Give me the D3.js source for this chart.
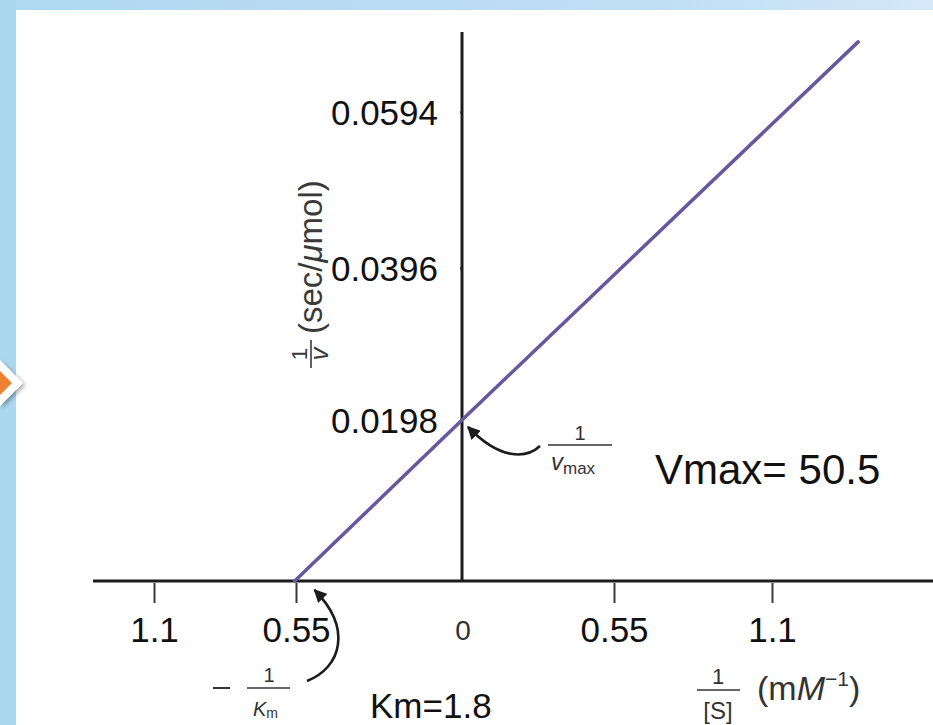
<!DOCTYPE html>
<html>
<head>
<meta charset="utf-8">
<script src="https://cdn.jsdelivr.net/npm/d3@7"></script>
<style>
  html, body { margin: 0; padding: 0; background: #fff; }
  svg { display: block; }
  text { font-family: "Liberation Sans", Arial, Helvetica, sans-serif; }
</style>
</head>
<body>
<svg id="chart" width="933" height="725"></svg>
<script>
// Lineweaver–Burk plot: 1/v against 1/[S]
const Km = 1.8;
const Vmax = 50.5;

// reciprocal substrate concentration (mM^-1) and reciprocal velocity (sec/µmol) along the fitted line
const invS = [-0.555, 0, 1.40];
const invV = [0, 0.0198, 0.0683];

// axis ticks
const xTickValues = [-1.1, -0.55, 0.55, 1.1];
const yTickValues = [0.0198, 0.0396, 0.0594];
const yTickLabels = ["0.0198", "0.0396", "0.0594"];

const svg = d3.select("#chart");
const W = 933, H = 725;

// slide frame
const defs = svg.append("defs");
const grad = defs.append("linearGradient").attr("id", "topband").attr("x1", "0").attr("x2", "1");
grad.append("stop").attr("offset", "0").attr("stop-color", "#afd8f1");
grad.append("stop").attr("offset", "0.7").attr("stop-color", "#bfdef4");
grad.append("stop").attr("offset", "1").attr("stop-color", "#d4e8f8");
const shadow = defs.append("filter").attr("id", "shadow").attr("x", "-50%").attr("y", "-50%").attr("width", "200%").attr("height", "200%");
shadow.append("feDropShadow").attr("dx", 2).attr("dy", 2).attr("stdDeviation", 2).attr("flood-color", "#000").attr("flood-opacity", 0.35);

svg.append("rect").attr("x", 0).attr("y", 0).attr("width", W).attr("height", H).attr("fill", "#fff");
svg.append("rect").attr("x", 0).attr("y", 0).attr("width", W).attr("height", 10).attr("fill", "url(#topband)");
svg.append("rect").attr("x", 0).attr("y", 0).attr("width", 16).attr("height", H).attr("fill", "#acd7f1");

// bullet chevron on the frame edge
svg.append("path").attr("d", "M0,360 L23,383 L0,406 Z").attr("fill", "#fff").attr("filter", "url(#shadow)");
svg.append("path").attr("d", "M0,371 L12,383 L0,395 Z").attr("fill", "#ef8230");

// scales
const x = d3.scaleLinear()
  .domain([-1.1, -0.55, 0, 0.55, 1.1])
  .range([154, 296, 462, 614, 772]);
const y = d3.scaleLinear()
  .domain([0, 0.0198, 0.0396, 0.0594])
  .range([581, 420, 268, 112]);

const x0 = x(0), y0 = y(0);

// x axis ticks and labels (magnitudes only, as printed)
const xAxis = svg.append("g").attr("transform", `translate(0,${y0})`)
  .call(d3.axisBottom(x).tickValues(xTickValues).tickSize(22).tickSizeOuter(0)
    .tickFormat(d => String(Math.abs(d))));
xAxis.select(".domain").remove();
xAxis.selectAll(".tick line").attr("stroke", "#3a3a3a").attr("stroke-width", 2).attr("y1", 2);
xAxis.selectAll(".tick text")
  .attr("y", 61).attr("dy", null)
  .attr("fill", "#111").attr("font-size", 35)
  .attr("font-family", "'Liberation Sans', Arial, sans-serif");

// y axis ticks and labels
const yAxis = svg.append("g").attr("transform", `translate(${x0},0)`)
  .call(d3.axisLeft(y).tickValues(yTickValues).tickSize(20).tickSizeOuter(0)
    .tickFormat((d, i) => yTickLabels[i]));
yAxis.select(".domain").remove();
yAxis.selectAll(".tick line").attr("stroke", "#3a3a3a").attr("stroke-width", 2).attr("x2", -2);
yAxis.selectAll(".tick text")
  .attr("x", -24).attr("dy", "0.36em")
  .attr("fill", "#111").attr("font-size", 35)
  .attr("font-family", "'Liberation Sans', Arial, sans-serif");

// axis lines
svg.append("line").attr("x1", 93).attr("x2", W).attr("y1", y0).attr("y2", y0)
  .attr("stroke", "#1c1c1c").attr("stroke-width", 3);
svg.append("line").attr("x1", x0).attr("x2", x0).attr("y1", 32).attr("y2", y0)
  .attr("stroke", "#1c1c1c").attr("stroke-width", 3);

// origin label
svg.append("text").attr("x", x0 + 1).attr("y", 640).attr("text-anchor", "middle")
  .attr("font-size", 28).attr("fill", "#333").text("0");

// the double-reciprocal line
const pts = invS.map((s, i) => [s, invV[i]]);
svg.append("path").datum(pts)
  .attr("d", d3.line().x(d => x(d[0])).y(d => y(d[1])))
  .attr("fill", "none").attr("stroke", "#66589e").attr("stroke-width", 3.5)
  .attr("stroke-linecap", "round");

// curved pointers
defs.append("marker").attr("id", "head").attr("viewBox", "0 0 10 10")
  .attr("refX", 9).attr("refY", 5).attr("markerWidth", 5).attr("markerHeight", 5)
  .attr("markerUnits", "strokeWidth").attr("orient", "auto")
  .append("path").attr("d", "M0,0 L10,5 L0,10 Z").attr("fill", "#1c1c1c");

svg.append("path")
  .attr("d", `M540,446 C526,459 500,460 ${x0 + 6},${y(1 / Vmax) + 7}`)
  .attr("fill", "none").attr("stroke", "#1c1c1c").attr("stroke-width", 2.6)
  .attr("marker-end", "url(#head)");
svg.append("path")
  .attr("d", `M307,681 C342,667 352,628 ${x(-1 / Km) + 20},${y0 + 9}`)
  .attr("fill", "none").attr("stroke", "#1c1c1c").attr("stroke-width", 2.6)
  .attr("marker-end", "url(#head)");

// 1/Vmax annotation
const gv = svg.append("g").attr("fill", "#333");
gv.append("text").attr("x", 580).attr("y", 440).attr("text-anchor", "middle").attr("font-size", 20).text("1");
gv.append("line").attr("x1", 548).attr("x2", 612).attr("y1", 445).attr("y2", 445).attr("stroke", "#333").attr("stroke-width", 1.6);
const vt = gv.append("text").attr("x", 551).attr("y", 470).attr("font-size", 24);
vt.append("tspan").attr("font-style", "italic").text("v");
vt.append("tspan").attr("font-size", 17).attr("dy", 4).text("max");

// -1/Km annotation
const gk = svg.append("g").attr("fill", "#333");
gk.append("line").attr("x1", 213).attr("x2", 230).attr("y1", 688).attr("y2", 688).attr("stroke", "#333").attr("stroke-width", 2);
gk.append("text").attr("x", 269).attr("y", 682).attr("text-anchor", "middle").attr("font-size", 20).text("1");
gk.append("line").attr("x1", 247).attr("x2", 290).attr("y1", 688).attr("y2", 688).attr("stroke", "#333").attr("stroke-width", 1.6);
const kt = gk.append("text").attr("x", 253).attr("y", 716).attr("font-size", 20);
kt.append("tspan").attr("font-style", "italic").text("K");
kt.append("tspan").attr("font-size", 14).attr("dy", 2).text("m");

// x-axis title: 1/[S] (mM^-1)
const gx = svg.append("g").attr("fill", "#333");
gx.append("text").attr("x", 718).attr("y", 684).attr("text-anchor", "middle").attr("font-size", 22).text("1");
gx.append("line").attr("x1", 697).attr("x2", 740).attr("y1", 690).attr("y2", 690).attr("stroke", "#333").attr("stroke-width", 1.6);
gx.append("text").attr("x", 718).attr("y", 719).attr("text-anchor", "middle").attr("font-size", 24).text("[S]");
const ut = gx.append("text").attr("x", 757).attr("y", 700).attr("font-size", 34);
ut.append("tspan").text("(m");
ut.append("tspan").attr("font-style", "italic").text("M");
ut.append("tspan").attr("font-size", 21).attr("dy", -14).text("−1");
ut.append("tspan").attr("dy", 14).text(")");

// y-axis title: 1/v (sec/µmol), rotated
const gy = svg.append("g").attr("transform", "translate(322,372) rotate(-90)").attr("fill", "#3a3a3a");
gy.append("text").attr("x", 18).attr("y", -15).attr("text-anchor", "middle").attr("font-size", 22).text("1");
gy.append("line").attr("x1", 4).attr("x2", 32).attr("y1", -11).attr("y2", -11).attr("stroke", "#3a3a3a").attr("stroke-width", 1.6);
gy.append("text").attr("x", 18).attr("y", 6).attr("text-anchor", "middle").attr("font-size", 26).attr("font-style", "italic").text("v");
const st = gy.append("text").attr("x", 38).attr("y", 0).attr("font-size", 33);
st.append("tspan").text("(sec/");
st.append("tspan").attr("font-style", "italic").text("μ");
st.append("tspan").text("mol)");

// fitted constants
svg.append("text").attr("x", 655).attr("y", 484).attr("font-size", 42).attr("fill", "#111").text(`Vmax= ${Vmax}`);
svg.append("text").attr("x", 370).attr("y", 718).attr("font-size", 35).attr("fill", "#111").text(`Km=${Km}`);
</script>
</body>
</html>
